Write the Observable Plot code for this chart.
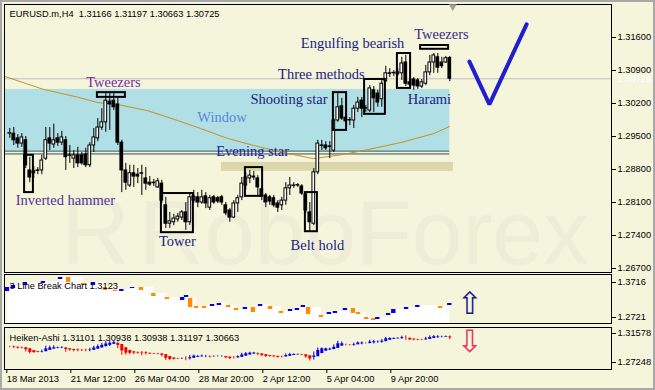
<!DOCTYPE html>
<html>
<head>
<meta charset="utf-8">
<script src="https://cdn.jsdelivr.net/npm/d3@7"></script>
<script src="https://cdn.jsdelivr.net/npm/@observablehq/plot@0.6"></script>
<style>
  html, body { margin: 0; padding: 0; background: #f5f5dc; }
  #chart { position: relative; width: 655px; height: 390px; background: #f5f5dc; overflow: hidden; }
  #chart .pane { position: absolute; left: 0; }
  #chart .border { position: absolute; left: 0; top: 0; width: 655px; height: 390px; box-sizing: border-box; border: 2px solid #a8a8a8; pointer-events: none; }
</style>
</head>
<body>
<div id="chart"></div>
<script>
// ---------- candle data (EURUSD H4), bar index 0..110 ----------
const open = [
1.2956,1.2956,1.2946,1.2935,1.2942,1.2878,1.2876,1.2878,1.2878,1.2903,
1.2946,1.2933,1.2946,1.2937,1.2942,1.2910,1.2903,1.2910,1.2910,1.2912,
1.2889,1.2931,1.2946,1.2969,1.2980,1.3024,1.3026,1.3018,1.2937,1.2878,
1.2846,1.2872,1.2869,1.2872,1.2861,1.2852,1.2852,1.2842,1.2850,1.2804,
1.2765,1.2768,1.2774,1.2778,1.2789,1.2768,1.2814,1.2821,1.2810,1.2823,
1.2799,1.2821,1.2819,1.2821,1.2804,1.2793,1.2778,1.2808,1.2821,1.2846,
1.2861,1.2863,1.2861,1.2838,1.2825,1.2821,1.2819,1.2808,1.2804,1.2814,
1.2840,1.2846,1.2846,1.2844,1.2827,1.2789,1.2765,1.2874,1.2931,1.2931,
1.2929,1.2920,1.2984,1.3014,1.2990,1.2984,1.2984,1.3009,1.3026,1.3009,
1.3005,1.3048,1.3041,1.3029,1.3067,1.3084,1.3084,1.3082,1.3084,1.3107,
1.3065,1.3071,1.3069,1.3056,1.3062,1.3086,1.3107,1.3118,1.3107,1.3107,
1.31166];
const high = [
1.2967,1.2969,1.2954,1.2956,1.2950,1.2906,1.2886,1.2884,1.2910,1.2969,
1.2969,1.2976,1.2956,1.2961,1.2950,1.2931,1.2920,1.2927,1.2916,1.2925,
1.2937,1.2967,1.2988,1.3009,1.3041,1.3041,1.3041,1.3031,1.2942,1.2893,
1.2889,1.2889,1.2882,1.2889,1.2884,1.2865,1.2859,1.2861,1.2857,1.2821,
1.2789,1.2785,1.2787,1.2793,1.2810,1.2829,1.2836,1.2831,1.2836,1.2831,
1.2825,1.2825,1.2823,1.2825,1.2810,1.2797,1.2814,1.2825,1.2863,1.2874,
1.2878,1.2876,1.2867,1.2846,1.2829,1.2825,1.2825,1.2814,1.2821,1.2852,
1.2863,1.2852,1.2850,1.2848,1.2831,1.2810,1.2882,1.2942,1.2942,1.2939,
1.2939,1.2988,1.3041,1.3031,1.2999,1.2990,1.3016,1.3033,1.3033,1.3016,
1.3058,1.3056,1.3048,1.3069,1.3099,1.3094,1.3090,1.3094,1.3118,1.3122,
1.3071,1.3075,1.3073,1.3071,1.3101,1.3122,1.3126,1.3126,1.3118,1.3120,
1.31197];
const low = [
1.2946,1.2931,1.2925,1.2927,1.2882,1.2852,1.2861,1.2869,1.2869,1.2899,
1.2920,1.2925,1.2929,1.2931,1.2878,1.2893,1.2882,1.2884,1.2889,1.2884,
1.2884,1.2916,1.2939,1.2963,1.2959,1.2963,1.3005,1.2931,1.2831,1.2836,
1.2842,1.2842,1.2850,1.2825,1.2836,1.2844,1.2844,1.2840,1.2808,1.2755,
1.2755,1.2761,1.2768,1.2772,1.2751,1.2761,1.2808,1.2799,1.2806,1.2797,
1.2793,1.2806,1.2808,1.2804,1.2782,1.2768,1.2776,1.2789,1.2814,1.2836,
1.2850,1.2857,1.2825,1.2814,1.2799,1.2804,1.2799,1.2789,1.2793,1.2804,
1.2825,1.2840,1.2842,1.2825,1.2787,1.2748,1.2761,1.2869,1.2920,1.2920,
1.2903,1.2916,1.2980,1.2984,1.2973,1.2973,1.2967,1.3001,1.2990,1.3001,
1.3001,1.3001,1.3012,1.3012,1.3065,1.3075,1.3077,1.3077,1.3069,1.3056,
1.3052,1.3048,1.3050,1.3052,1.3058,1.3079,1.3084,1.3084,1.3094,1.3105,
1.30663];
const close = [
1.2957,1.2942,1.2935,1.2948,1.2889,1.2863,1.2872,1.2877,1.2899,1.2942,
1.2935,1.2942,1.2937,1.2948,1.2906,1.2909,1.2910,1.2893,1.2893,1.2889,
1.2931,1.2948,1.2969,1.2980,1.3026,1.3018,1.3012,1.2937,1.2878,1.2852,
1.2872,1.2865,1.2865,1.2871,1.2850,1.2848,1.2851,1.2855,1.2814,1.2765,
1.2770,1.2776,1.2780,1.2789,1.2768,1.2821,1.2823,1.2810,1.2821,1.2808,
1.2819,1.2810,1.2812,1.2810,1.2787,1.2778,1.2808,1.2819,1.2850,1.2863,
1.2867,1.2865,1.2842,1.2823,1.2810,1.2812,1.2804,1.2799,1.2814,1.2840,
1.2846,1.2845,1.2847,1.2829,1.2793,1.2768,1.2874,1.2935,1.2930,1.2925,
1.2928,1.2984,1.3012,1.2988,1.2982,1.2985,1.3009,1.3022,1.3009,1.3010,
1.3052,1.3031,1.3022,1.3062,1.3084,1.3083,1.3085,1.3086,1.3105,1.3062,
1.3060,1.3058,1.3056,1.3065,1.3086,1.3107,1.3122,1.3096,1.3099,1.3116,
1.30725];

// moving average, read at sampled bars
const maIndex = [-1.1, 8.4, 17.2, 21.9, 26.9, 34.4, 41.9, 47.7, 54.4, 60.9, 68.4, 75.9, 83.4, 89.4, 97.7, 105.9, 109.9];
const maValue = [1.3077, 1.3050, 1.3033, 1.3022, 1.3018, 1.3005, 1.2984, 1.2967, 1.2946, 1.2931, 1.2916, 1.2903, 1.2912, 1.2922, 1.2937, 1.2956, 1.2971];

// axis ticks and texts
const priceTicks = [1.316, 1.309, 1.302, 1.295, 1.288, 1.281, 1.274, 1.267];
const lastPrice = 1.30725;
const headerText = "EURUSD.m,H4  1.31166 1.31197 1.30663 1.30725";
const xTickIndex = [-1, 15, 31, 47, 63, 79, 95];
const xTickLabels = ["18 Mar 2013", "21 Mar 12:00", "26 Mar 04:00", "28 Mar 20:00", "2 Apr 12:00", "5 Apr 04:00", "9 Apr 20:00"];

// pattern boxes
const boxK1 = [3.7, 21.9, 37.9, 58.9, 73.9, 80.9, 88.7, 96.9, 102.7];
const boxK2 = [5.9, 28.9, 45.9, 63.2, 76.9, 84.2, 93.9, 100.2, 109.7];
const boxTop = [1.2910, 1.3043, 1.2829, 1.2884, 1.2831, 1.3043, 1.3071, 1.3126, 1.3143];
const boxBottom = [1.2831, 1.3033, 1.2746, 1.2823, 1.2748, 1.2963, 1.2997, 1.3052, 1.3135];

// pattern labels
const labelText = ["Tweezers", "Window", "Shooting star", "Three methods", "Engulfing bearish", "Tweezers", "Harami", "Evening star", "Inverted hammer", "Tower", "Belt hold"];
const labelK = [25.9, 53.05, 69.8, 77.9, 85.7, 107.9, 104.9, 60.7, 13.9, 41.9, 76.9];
const labelPrice = [1.3054, 1.2980, 1.3018, 1.3073, 1.3137, 1.3156, 1.3018, 1.2908, 1.2804, 1.2717, 1.2710];
const labelColor = ["#7a2aa6", "#5b87dc", "#1c1c80", "#1c1c80", "#1c1c80", "#3a2a8c", "#1c1c80", "#2323a0", "#553399", "#1c1c80", "#1c1c80"];

// zones
const windowK = [-1.325, 110];
const windowPrice = [1.2919, 1.3050];
const windowLines = [1.2919, 1.2913];
const starZoneK = [52.9, 110.9];
const starZonePrice = [1.2876, 1.2895];

// check mark
const checkK = [114.9, 119.9, 129.2];
const checkPrice = [1.3109, 1.3018, 1.3188];

// 3 Line Break bricks
const lbIndex = [-0.6,0.9,3.9,8.4,12.7,14.7,18.4,20.9,23.9,26.4,28,30.7,32.9,36,39.4,43.2,44.2,45.2,46.7,48.7,50.7,52.4,54.7,56.7,58.9,60.9,62.7,65.2,67.9,70.2,71.9,73.4,74.7,77.9,79.9,81.4,83.9,85.9,87.2,89.2,91,92,94.7,96,99.2,102,107.7,110];
const lbHigh = [1.3574,1.3631,1.3716,1.3744,1.3858,1.3858,1.3688,1.3716,1.3574,1.3489,1.3517,1.3574,1.3574,1.3403,1.3290,1.3290,1.3346,1.3261,1.3034,1.3034,1.3091,1.3119,1.3062,1.2977,1.3005,1.3005,1.3091,1.3034,1.2892,1.2948,1.2977,1.3062,1.3005,1.2778,1.2863,1.2892,1.2977,1.2977,1.2863,1.2721,1.2692,1.2721,1.2835,1.2948,1.3005,1.3062,1.3034,1.3119];
const lbLow = [1.3460,1.3545,1.3631,1.3688,1.3801,1.3716,1.3631,1.3631,1.3489,1.3460,1.3460,1.3545,1.3489,1.3318,1.3233,1.3204,1.3290,1.3005,1.2977,1.2977,1.3034,1.3062,1.3005,1.2920,1.2948,1.2863,1.3034,1.2948,1.2835,1.2892,1.2920,1.3005,1.2806,1.2721,1.2806,1.2835,1.2920,1.2835,1.2806,1.2664,1.2636,1.2664,1.2778,1.2835,1.2948,1.3005,1.2977,1.3062];
const lbUp = [1,1,1,1,1,0,0,1,0,0,1,1,0,0,0,1,1,0,0,0,1,1,0,0,1,0,1,0,0,1,1,1,0,0,1,1,1,0,0,0,0,1,1,1,1,1,0,1];
const lbTicks = [1.3716, 1.2721];
const lbText = "3 Line Break Chart 1.3123";

// Heiken-Ashi pane
const haTicks = [1.31578, 1.27248];
const haText = "Heiken-Ashi 1.31101 1.30938 1.30938 1.31197 1.30663";

// signal arrows
const upArrow = {k: 115, v: 1.3091};
const downArrow = {k: 115, v: 1.3023};

// ---------- build ----------
const sans = "Liberation Sans, Arial, sans-serif";
const serif = "Liberation Serif, Times New Roman, serif";
const xDomain = [-1.325, 150.425];

const bars = open.map((o, i) => ({k: i, o, h: high[i], l: low[i], c: close[i]}));
const ma = maIndex.map((k, i) => ({k, p: maValue[i]}));
const boxes = boxK1.map((k1, i) => ({k1, k2: boxK2[i], top: boxTop[i], bottom: boxBottom[i]}));
const labels = labelText.map((t, i) => ({t, k: labelK[i], p: labelPrice[i], color: labelColor[i]}));
const check = checkK.map((k, i) => ({k, p: checkPrice[i]}));
const bricks = lbIndex.map((k, i) => ({k, hi: lbHigh[i], lo: lbLow[i], up: lbUp[i]}));

// Heiken-Ashi from the candles (indicator definition)
const ha = [];
bars.forEach((b, i) => {
  const c = (b.o + b.h + b.l + b.c) / 4;
  const o = i === 0 ? (b.o + b.c) / 2 : (ha[i - 1].o + ha[i - 1].c) / 2;
  ha.push({k: b.k, o, c, h: Math.max(b.h, o, c), l: Math.min(b.l, o, c)});
});

const baseStyle = {background: "transparent", overflow: "visible", fontFamily: sans, fontSize: "9.3px", color: "black"};

const main = Plot.plot({
  width: 655, height: 274,
  marginLeft: 4, marginRight: 44, marginTop: 4, marginBottom: 2,
  x: {domain: xDomain, axis: null},
  y: {domain: [1.26615, 1.323]},
  color: {type: "identity"},
  style: baseStyle,
  marks: [
    Plot.text(["R"], {frameAnchor: "bottom-left", dx: 56, dy: -9, textAnchor: "start", lineAnchor: "bottom", fontSize: 96, fill: "#eeeed8", fontFamily: sans}),
    Plot.text(["RoboForex"], {frameAnchor: "bottom-left", dx: 134, dy: -9, textAnchor: "start", lineAnchor: "bottom", fontSize: 91, fill: "#eeeed8", fontFamily: sans}),
    Plot.rect([0], {x1: windowK[0], x2: windowK[1], y1: windowPrice[0], y2: windowPrice[1], fill: "#b0e0e6", clip: true}),
    Plot.ruleY(windowLines, {x1: windowK[0], x2: windowK[1], stroke: "#2f4f5a", strokeWidth: 1, clip: true}),
    Plot.rect([0], {x1: starZoneK[0], x2: starZoneK[1], y1: starZonePrice[0], y2: starZonePrice[1], fill: "#dcd7ab"}),
    Plot.ruleY([lastPrice], {stroke: "#c0c0c0"}),
    Plot.line(ma, {x: "k", y: "p", stroke: "#c8901e", strokeWidth: 1, clip: true}),
    Plot.ruleX(bars, {x: "k", y1: "l", y2: "h", stroke: "black", strokeWidth: 1}),
    Plot.rect(bars, {x1: d => d.k - 0.34, x2: d => d.k + 0.34, y1: d => Math.min(d.o, d.c), y2: d => Math.max(d.o, d.c), fill: d => d.c >= d.o ? "white" : "black", stroke: "black", strokeWidth: 1}),
    Plot.rect(boxes, {x1: "k1", x2: "k2", y1: "bottom", y2: "top", fill: "none", stroke: "black", strokeWidth: 2}),
    Plot.text(labels, {x: "k", y: "p", text: "t", fill: "color", fontFamily: serif, fontSize: 14.5, textAnchor: "middle", lineAnchor: "bottom"}),
    Plot.line(check, {x: "k", y: "p", stroke: "#1f1fcf", strokeWidth: 4, strokeLinejoin: "miter"}),
    Plot.frame({stroke: "black"}),
    Plot.axisY(priceTicks, {anchor: "right", tickSize: 4, tickPadding: 2, tickFormat: d3.format(".5f"), label: null, fontSize: 9.3}),
    Plot.text([headerText], {frameAnchor: "top-left", dx: 5, dy: 12, textAnchor: "start", lineAnchor: "bottom", fill: "black", fontSize: 9.3}),
    Plot.text([lastPrice], {y: d => d, text: d => d3.format(".5f")(d), frameAnchor: "right", dx: 6, textAnchor: "start", fill: "white", fontSize: 9.3, ariaLabel: "price tag"}),
    Plot.dot([bars.length - 1], {x: d => d, frameAnchor: "top", dx: 3, dy: 2, symbol: "triangle", rotate: 180, r: 3, fill: "#a0a0a0", stroke: "none"})
  ]
});

const lb = Plot.plot({
  width: 655, height: 53,
  marginLeft: 4, marginRight: 44, marginTop: 2, marginBottom: 2,
  x: {domain: xDomain, axis: null},
  y: {domain: [1.25504, 1.39434]},
  color: {type: "identity"},
  style: baseStyle,
  marks: [
    Plot.areaY(bricks, {x: "k", y1: 1.25504, y2: "hi", curve: "step-after", fill: "white"}),
    Plot.rect(bricks, {x1: d => d.k - 0.55, x2: d => d.k + 0.55, y1: "lo", y2: "hi", fill: d => d.up ? "#0000ee" : "#ff8c00"}),
    Plot.text([lbText], {frameAnchor: "top-left", dx: 5, dy: 14.5, textAnchor: "start", lineAnchor: "bottom", fill: "black", fontSize: 9.3}),
    Plot.text([upArrow], {x: "k", y: "v", text: () => "\u21E7", fontSize: 31, fill: "#1b1b8f", fontFamily: "DejaVu Sans"}),
    Plot.frame({stroke: "black"}),
    Plot.axisY(lbTicks, {anchor: "right", tickSize: 4, tickPadding: 2, tickFormat: d3.format(".4f"), label: null, fontSize: 9.3})
  ]
});

const xLabelMap = new Map(xTickIndex.map((k, i) => [k, xTickLabels[i]]));
const hap = Plot.plot({
  width: 655, height: 65,
  marginLeft: 4, marginRight: 44, marginTop: 2, marginBottom: 21,
  x: {domain: xDomain},
  y: {domain: [1.26203, 1.32474]},
  color: {type: "identity"},
  style: baseStyle,
  marks: [
    Plot.ruleX(ha, {x: "k", y1: "l", y2: "h", stroke: d => d.c >= d.o ? "#0000dd" : "#ee0000", strokeWidth: 1}),
    Plot.ruleX(ha, {x: "k", y1: "o", y2: "c", stroke: d => d.c >= d.o ? "#0000dd" : "#ee0000", strokeWidth: 3}),
    Plot.text([haText], {frameAnchor: "top-left", dx: 5, dy: 13, textAnchor: "start", lineAnchor: "bottom", fill: "black", fontSize: 9.3}),
    Plot.text([downArrow], {x: "k", y: "v", text: () => "\u21E9", fontSize: 31, fill: "#e8385a", fontFamily: "DejaVu Sans"}),
    Plot.frame({stroke: "black"}),
    Plot.axisY(haTicks, {anchor: "right", tickSize: 4, tickPadding: 2, tickFormat: d3.format(".5f"), label: null, fontSize: 9.3}),
    Plot.axisX(xTickIndex, {anchor: "bottom", tickSize: 4, tickPadding: 2, tickFormat: d => xLabelMap.get(d), textAnchor: "start", dx: 1, label: null, fontSize: 9.3})
  ]
});

const chart = document.getElementById("chart");
[[main, 0], [lb, 272], [hap, 325]].forEach(([svg, top]) => {
  const div = document.createElement("div");
  div.className = "pane";
  div.style.top = top + "px";
  div.appendChild(svg);
  chart.appendChild(div);
});
const border = document.createElement("div");
border.className = "border";
chart.appendChild(border);

// black background box behind the current price tag
const tag = main.querySelector('g[aria-label="price tag"] text');
if (tag) {
  const bb = tag.getBBox();
  const r = document.createElementNS("http://www.w3.org/2000/svg", "rect");
  r.setAttribute("x", bb.x - 3);
  r.setAttribute("y", bb.y - 1);
  r.setAttribute("width", bb.width + 8);
  r.setAttribute("height", bb.height + 2);
  r.setAttribute("fill", "black");
  const tr = tag.getAttribute("transform");
  if (tr) r.setAttribute("transform", tr);
  tag.parentNode.insertBefore(r, tag);
}
</script>
</body>
</html>
